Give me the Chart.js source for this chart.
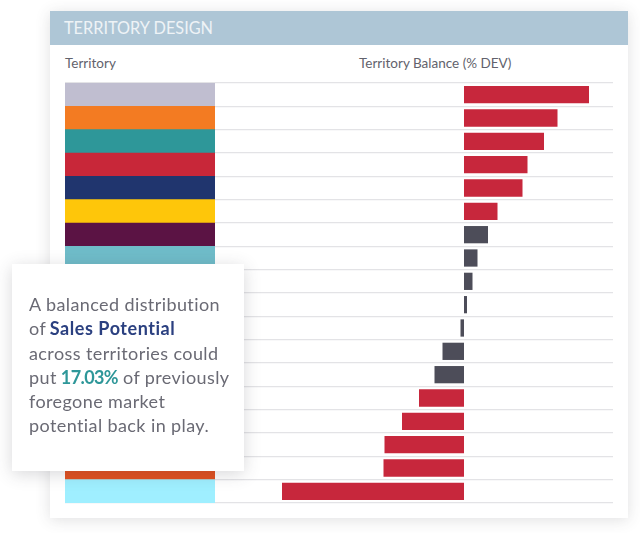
<!DOCTYPE html>
<html>
<head>
<meta charset="utf-8">
<script src="https://cdn.jsdelivr.net/npm/chart.js@4/dist/chart.umd.min.js"></script>
<style>
  html, body { margin: 0; padding: 0; background: #fff; }
  body { width: 640px; height: 533px; position: relative; overflow: hidden; font-family: Lato, sans-serif; }
  .card { position: absolute; left: 50px; top: 11px; width: 578px; height: 507px; background: #fff; box-shadow: 0 2px 14px rgba(60,60,70,0.16); }
  .band { position: absolute; left: 50px; top: 11px; width: 578px; height: 34px; background: #aec6d6; }
  .band span { position: absolute; left: 14px; top: 7px; color: #eef3f6; font-size: 16.3px; line-height: 20px; white-space: nowrap; }
  .col { position: absolute; top: 55px; color: #62626c; font-size: 13.5px; line-height: 17px; white-space: nowrap; }
  #chartBox { position: absolute; left: 55px; top: 73px; width: 568px; height: 440px; }
  .note { position: absolute; left: 12px; top: 264px; width: 232px; height: 207px; background: #fff; box-shadow: 0 3px 16px rgba(60,60,70,0.2); }
  .note p { position: absolute; left: 17px; top: 28px; margin: 0; width: 215px; color: #6a6a74; font-size: 18px; letter-spacing: 0.4px; line-height: 24.3px; white-space: nowrap; }
  .note b { font-weight: 700; }
  .navy { color: #2b4080; letter-spacing: 0.55px; margin-left: -1px; }
  .teal { color: #2e9799; letter-spacing: -0.6px; margin-left: -1px; }
</style>
</head>
<body>
<div class="card"></div>
<div class="band"><span>TERRITORY DESIGN</span></div>
<div class="col" style="left:65px">Territory</div>
<div class="col" style="left:359px">Territory Balance (% DEV)</div>
<div id="chartBox"><canvas id="balanceChart"></canvas></div>
<div class="note">
  <p>A balanced distribution<br>of <b class="navy">Sales Potential</b><br>across territories could<br>put <b class="teal">17.03%</b> of previously<br>foregone market<br>potential back in play.</p>
</div>
<script>
// Values
const territories = ['T1', 'T2', 'T3', 'T4', 'T5', 'T6', 'T7', 'T8', 'T9', 'T10', 'T11', 'T12', 'T13', 'T14', 'T15', 'T16', 'T17', 'T18'];
const balance = [25.0, 18.7, 16.0, 12.7, 11.7, 6.7, 4.8, 2.7, 1.7, 0.6, -0.7, -4.3, -5.9, -9.0, -12.4, -15.9, -16.1, -36.4];
const swatchShare = [1, 1, 1, 1, 1, 1, 1, 1, 1, 1, 1, 1, 1, 1, 1, 1, 1, 1];

// Rows 9-16 sit behind the callout, their colours can't be seen
const swatchColors = ['#c0bed0', '#f37b22', '#2e9799', '#c82739', '#20356e', '#fec60a', '#5b1344', '#6fbcc9',
  '#8a8fa8', '#8a8fa8', '#8a8fa8', '#8a8fa8', '#8a8fa8', '#8a8fa8', '#8a8fa8', '#8a8fa8', '#e2501f', '#9fefff'];

const RED = '#c7273c';
const DARK = '#4d4d59';
// small deviations are dark, the larger ones red
function barColor(v) {
    return (v >= 6.5 || v <= -8) ? RED : DARK;
}

// the x axes draw nothing, so they should take no height
function noHeight(axis) {
    axis.height = 0;
}

new Chart(document.getElementById('balanceChart'), {
    type: 'bar',
    data: {
        labels: territories,
        datasets: [{
            label: 'Territory',
            data: swatchShare,
            xAxisID: 'xSwatch',
            backgroundColor: swatchColors,
            barPercentage: 1,
            categoryPercentage: 1,
            grouped: false
        }, {
            label: 'Territory Balance (% DEV)',
            data: balance,
            xAxisID: 'xBalance',
            backgroundColor: balance.map(barColor),
            barPercentage: 0.74,
            categoryPercentage: 1,
            grouped: false
        }]
    },
    options: {
        indexAxis: 'y',
        responsive: true,
        maintainAspectRatio: false,
        animation: false,
        layout: { padding: 10 },
        plugins: {
            legend: { display: false },
            tooltip: { enabled: false }
        },
        scales: {
            y: {
                ticks: { display: false },
                border: { display: false },
                grid: { color: '#e3e3e6', lineWidth: 1.2, drawTicks: false }
            },
            xSwatch: {
                type: 'linear',
                position: 'bottom',
                stack: 'columns',
                stackWeight: 150,
                min: 0,
                max: 1,
                afterFit: noHeight,
                ticks: { display: false },
                border: { display: false },
                grid: { display: false }
            },
            xBalance: {
                type: 'linear',
                position: 'bottom',
                stack: 'columns',
                stackWeight: 398,
                min: -49.8,
                max: 29.8,
                afterFit: noHeight,
                ticks: { display: false },
                border: { display: false },
                grid: { display: false }
            }
        }
    }
});
</script>
</body>
</html>
